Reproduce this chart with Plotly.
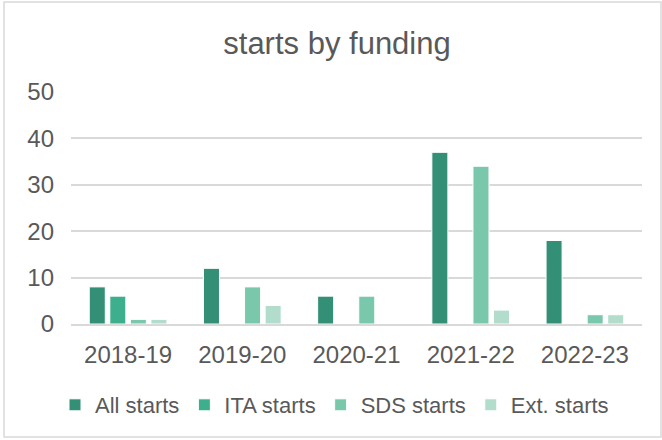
import plotly.graph_objects as go

YEARS = ["2018-19", "2019-20", "2020-21", "2021-22", "2022-23"]
ALL_STARTS = [8, 12, 6, 37, 18]
ITA_STARTS = [6, None, None, None, None]
SDS_STARTS = [1, 8, 6, 34, 2]
EXT_STARTS = [1, 4, None, 3, 2]

SERIES = [
    ("All starts", ALL_STARTS, "#338f75"),
    ("ITA starts", ITA_STARTS, "#3daf8c"),
    ("SDS starts", SDS_STARTS, "#7ac8ac"),
    ("Ext. starts", EXT_STARTS, "#b2dccb"),
]

FONT = "Liberation Sans"
TEXT = "#595959"

fig = go.Figure()
for name, vals, color in SERIES:
    fig.add_trace(go.Bar(
        x=YEARS, y=vals, name=name,
        marker=dict(color=color, line=dict(color="white", width=1)),
    ))

fig.update_layout(
    width=662, height=440,
    margin=dict(l=71, r=20, t=92, b=116, autoexpand=False),
    paper_bgcolor="white", plot_bgcolor="white",
    font=dict(family=FONT, size=24, color=TEXT),
    title=dict(text="starts by funding", x=337 / 662, xref="container", xanchor="center",
               y=1 - 43 / 440, yref="container", yanchor="middle",
               font=dict(family=FONT, size=31, color=TEXT)),
    barmode="group", bargap=0.28, bargroupgap=0.22,
    legend=dict(orientation="h", x=(55 - 71) / 571, xanchor="left",
                y=(324 - 405) / 232, yanchor="middle", font=dict(size=22, color=TEXT),
                itemwidth=30, tracegroupgap=0, borderwidth=0),
    showlegend=True,
)
fig.update_yaxes(range=[0, 50], dtick=10, showgrid=True, gridcolor="#d9d9d9", gridwidth=1.5,
                 zeroline=False, showline=False, ticks="", ticklabelstandoff=16,
                 automargin=False)
fig.update_xaxes(showline=True, linecolor="#d9d9d9", linewidth=1.5, ticks="",
                 ticklabelstandoff=8, tickangle=0, automargin=False)

fig.add_shape(type="rect", xref="paper", yref="paper",
              x0=(4 - 71) / 571, x1=(661 - 71) / 571,
              y0=(324 - 437) / 232, y1=(324 - 2) / 232,
              line=dict(color="#d9d9d9", width=1.5), layer="below")

fig.write_html("out.html", config={"displayModeBar": False},
               post_script="document.body.style.margin='0';")
